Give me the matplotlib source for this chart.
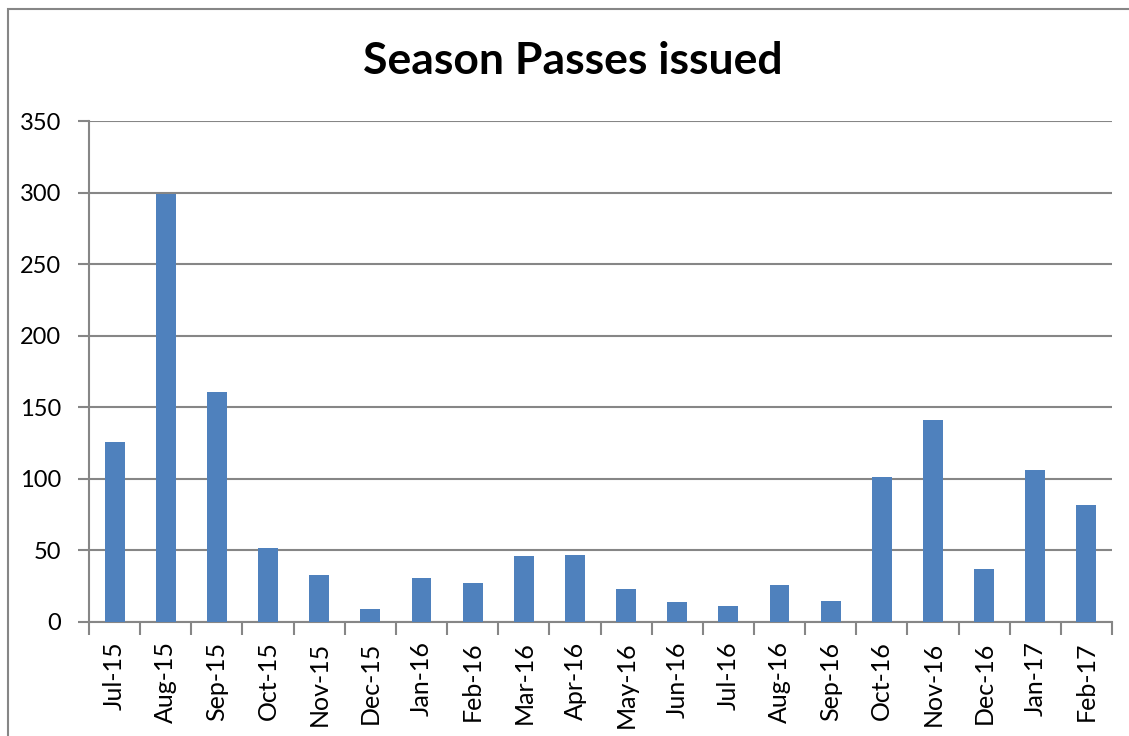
import matplotlib
matplotlib.use("Agg")
import matplotlib.pyplot as plt
from matplotlib.patches import Rectangle

months = ["Jul-15", "Aug-15", "Sep-15", "Oct-15", "Nov-15", "Dec-15", "Jan-16", "Feb-16",
          "Mar-16", "Apr-16", "May-16", "Jun-16", "Jul-16", "Aug-16", "Sep-16", "Oct-16",
          "Nov-16", "Dec-16", "Jan-17", "Feb-17"]
passes = [126, 299, 161, 52, 33, 9, 31, 27, 46, 47, 23, 14, 11, 26, 15, 101, 141, 37, 106, 82]
yticks = [0, 50, 100, 150, 200, 250, 300, 350]

plt.rcParams['font.family'] = ['Lato', 'DejaVu Sans']

fig = plt.figure(figsize=(11.29, 7.36), dpi=100)
ax = fig.add_axes([89/1129, (736-622)/736, (1112-89)/1129, (622-121)/736])

x = list(range(len(months)))
ax.bar(x, passes, width=0.39, color='#4F81BD', zorder=3)

ax.set_xlim(-0.5, len(months) - 0.5)
ax.set_ylim(0, 350)
ax.set_yticks(yticks)
ax.set_yticklabels([str(v) for v in yticks], fontsize=17)
ax.set_xticks(x)
ax.set_xticklabels(months, rotation=90, fontsize=18)
ax.tick_params(axis='x', length=0, pad=14)
ax.set_xticks([i + 0.5 for i in range(-1, len(months))], minor=True)
ax.tick_params(axis='x', which='minor', length=9, width=1.5, color='#868686')
ax.tick_params(axis='y', length=8, width=1.5, color='#868686', pad=12)

ax.grid(axis='y', color='#868686', linewidth=1.5, zorder=0)
for s in ['top', 'right']:
    ax.spines[s].set_visible(False)
for s in ['left', 'bottom']:
    ax.spines[s].set_color('#868686')
    ax.spines[s].set_linewidth(1.5)

fig.text(573/1129, 1 - 61/736, "Season Passes issued", ha='center', va='center',
         fontsize=32, fontweight='bold')

fig.patches.append(Rectangle((7.5/1129, -0.1), 1.2, 1 - 8.5/736 + 0.1,
                             transform=fig.transFigure, fill=False,
                             edgecolor='#868686', linewidth=1.5))

fig.savefig("out.png", dpi=100)
